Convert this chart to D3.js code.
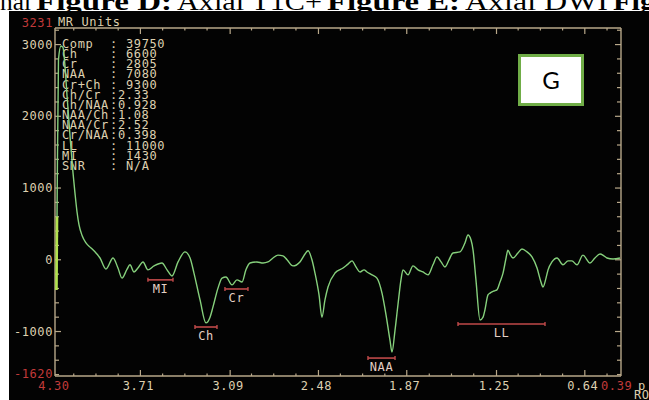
<!DOCTYPE html>
<html>
<head>
<meta charset="utf-8">
<script src="https://cdn.jsdelivr.net/npm/d3@7"></script>
<style>
  html, body { margin: 0; padding: 0; background: #fff; }
  svg { display: block; }
</style>
</head>
<body>
<svg id="chart" width="649" height="400"></svg>
<script>
// Spectrum: chemical shift (ppm) and signal (MR units)
const ppm = [4.290, 4.286, 4.276, 4.259, 4.245, 4.231, 4.217, 4.196, 4.176, 4.162, 4.148, 4.134, 4.113, 4.086, 4.051, 4.017,
  3.989, 3.948, 3.899, 3.865, 3.837, 3.803, 3.782, 3.754, 3.727, 3.692, 3.658, 3.616, 3.561, 3.526, 3.492, 3.450,
  3.402, 3.367, 3.340, 3.298, 3.257, 3.229, 3.209, 3.174, 3.146, 3.119, 3.077, 3.043, 3.008, 2.981, 2.953, 2.905,
  2.863, 2.829, 2.794, 2.760, 2.725, 2.697, 2.656, 2.608, 2.573, 2.552, 2.525, 2.504, 2.476, 2.456, 2.435, 2.414,
  2.366, 2.310, 2.276, 2.248, 2.221, 2.193, 2.165, 2.145, 2.110, 2.076, 2.041, 2.013, 1.986, 1.972, 1.951, 1.931,
  1.910, 1.896, 1.861, 1.827, 1.792, 1.758, 1.723, 1.689, 1.661, 1.633, 1.606, 1.578, 1.551, 1.502, 1.468, 1.447,
  1.426, 1.412, 1.392, 1.364, 1.343, 1.330, 1.309, 1.295, 1.267, 1.247, 1.226, 1.205, 1.184, 1.171, 1.157, 1.136,
  1.102, 1.074, 1.039, 1.005, 0.970, 0.943, 0.929, 0.908, 0.894, 0.867, 0.832, 0.791, 0.756, 0.729, 0.694, 0.653,
  0.604, 0.570, 0.535, 0.508, 0.487, 0.445, 0.397];
const signal = [-420, 600, 2790, 2980, 2960, 2700, 2290, 1720, 1220, 930, 670, 485, 340, 235, 165, 95,
  25, -130, 25, -115, -255, -135, -70, -170, -115, -30, -140, -85, -45, -140, -225, -30,
  110, 25, -185, -560, -880, -800, -660, -395, -255, -240, -350, -280, -310, -140, -45, -30,
  -45, -30, 25, 65, 55, 0, -85, -30, 80, 125, 0, -185, -490, -800, -560, -380,
  -185, -115, -60, -15, -100, -170, -140, -170, -210, -255, -465, -770, -1120, -1285, -980, -630,
  -280, -140, -210, -85, -140, -170, -210, -70, 40, -30, -100, 0, 95, 110, 235, 345,
  275, 135, -280, -840, -800, -700, -490, -465, -435, -420, -310, -185, 25, 135, 80, 25,
  95, 150, 110, 40, -115, -310, -380, -255, -140, -30, 25, -70, -15, -15, -70, 65,
  -45, 25, 80, 55, 25, 10, 25];

// Integration ranges drawn under the peaks
const markerNames = ["MI", "Ch", "Cr", "NAA", "LL"];
const markerFrom = [3.658, 3.333, 3.126, 2.138, 1.516];
const markerTo = [3.485, 3.181, 2.967, 1.951, 0.915];
const markerLevel = [-280, -937, -407, -1370, -895];

// Quantitation table
const statNames = ["Comp", "Ch", "Cr", "NAA", "Cr+Ch", "Ch/Cr", "Ch/NAA", "NAA/Ch", "NAA/Cr", "Cr/NAA", "LL", "MI", "SNR"];
const statValues = ["39750", "6600", "2805", "7080", "9300", "2.33", "0.928", "1.08", "2.52", "0.398", "11000", "1430", "N/A"];
const statIsRatio = [false, false, false, false, false, true, true, true, true, true, false, false, false];

// Axes
const xDomain = [4.30, 0.39];
const yDomain = [-1620, 3231];
const xTickValues = [3.71, 3.09, 2.48, 1.87, 1.25, 0.64];
const xTickLabels = ["3.71", "3.09", "2.48", "1.87", "1.25", "0.64"];
const yTickValues = [3000, 2000, 1000, 0, -1000];
const yTickLabels = ["3000", "2000", "1000", "0", "-1000"];

// Caption fragment above the panel
const captionParts = ["nal", "Figure D:", "Axial T1C+", "Figure E:", "Axial DWI", "Fig"];
const captionBold = [false, true, false, true, false, true];
const captionX = [0, 36, 177, 327, 465, 613];
const captionW = [31, 136, 145, 133, 143, 42];

const svg = d3.select("#chart");
const mono = "'DejaVu Sans Mono', 'Liberation Mono', monospace";
const beige = "#ded0b0";
const axisCol = "#b8a88a";
const red = "#c23a3a";

// caption strip
const cap = svg.append("g")
  .attr("font-family", "'Liberation Serif', 'Times New Roman', serif")
  .attr("font-size", 25)
  .attr("fill", "#000");
captionParts.forEach((t, i) => {
  cap.append("text").attr("x", captionX[i]).attr("y", 10)
    .attr("font-weight", captionBold[i] ? "bold" : "normal")
    .attr("textLength", captionW[i]).attr("lengthAdjust", "spacingAndGlyphs")
    .text(t);
});

// black display panel
svg.append("rect").attr("x", 9).attr("y", 11).attr("width", 640).attr("height", 389).attr("fill", "#030303");

const x = d3.scaleLinear().domain(xDomain).range([55, 621]);
const y = d3.scaleLinear().domain(yDomain).range([376, 28]);

// minor x ticks: quarter steps between major ticks, extended to both ends
const step = (xTickValues[0] - xTickValues[xTickValues.length - 1]) / (xTickValues.length - 1) / 4;
const xMinor = [];
for (let v = xTickValues[0] + step * 3; v >= xDomain[1] - 1e-9; v -= step) {
  if (v <= xDomain[0] && !xTickValues.some(t => Math.abs(t - v) < step / 2)) xMinor.push(v);
}
const yMinor = d3.range(-1600, 3231, 200).filter(v => v % 1000 !== 0);

const g = svg.append("g");

// frame lines
g.append("line").attr("x1", 55).attr("x2", 55).attr("y1", 28).attr("y2", 376).attr("stroke", axisCol).attr("stroke-width", 1.4);
g.append("line").attr("x1", 621).attr("x2", 621).attr("y1", 28).attr("y2", 376).attr("stroke", axisCol).attr("stroke-width", 1.4);
g.append("line").attr("x1", 55).attr("x2", 621).attr("y1", 376).attr("y2", 376).attr("stroke", axisCol).attr("stroke-width", 1.4);
g.append("line").attr("x1", 55).attr("x2", 621).attr("y1", 28).attr("y2", 28).attr("stroke", axisCol).attr("stroke-width", 1.4);

// inward ticks on all four sides
function xTicks(vals, len) {
  vals.forEach(v => {
    g.append("line").attr("x1", x(v)).attr("x2", x(v)).attr("y1", 376).attr("y2", 376 - len).attr("stroke", axisCol).attr("stroke-width", 1.2);
    g.append("line").attr("x1", x(v)).attr("x2", x(v)).attr("y1", 28).attr("y2", 28 + len).attr("stroke", axisCol).attr("stroke-width", 1.2);
  });
}
xTicks(xTickValues, 6);
xTicks(xMinor, 2.5);
function yTicks(vals, len) {
  vals.forEach(v => {
    g.append("line").attr("x1", 55).attr("x2", 55 + len).attr("y1", y(v)).attr("y2", y(v)).attr("stroke", axisCol).attr("stroke-width", 1.2);
    g.append("line").attr("x1", 621).attr("x2", 621 - len).attr("y1", y(v)).attr("y2", y(v)).attr("stroke", axisCol).attr("stroke-width", 1.2);
  });
}
yTicks(yTickValues, 6);
yTicks(yMinor, 4);

// axis labels
const lab = svg.append("g").attr("font-family", mono).attr("font-size", 12).attr("letter-spacing", 0.6);
yTickValues.forEach((v, i) => {
  lab.append("text").attr("x", 53).attr("y", y(v) + 4).attr("text-anchor", "end").attr("fill", beige).text(yTickLabels[i]);
});
lab.append("text").attr("x", 53).attr("y", 378).attr("text-anchor", "end").attr("fill", red).text(String(yDomain[0]));
lab.append("text").attr("x", 53).attr("y", 27).attr("text-anchor", "end").attr("fill", red).text(String(yDomain[1]));
lab.append("text").attr("x", 58).attr("y", 26).attr("fill", beige).text("MR Units");
xTickValues.forEach((v, i) => {
  lab.append("text").attr("x", x(v) - 2).attr("y", 390).attr("text-anchor", "middle").attr("fill", beige).text(xTickLabels[i]);
});
lab.append("text").attr("x", 54).attr("y", 390).attr("text-anchor", "middle").attr("fill", red).text(xDomain[0].toFixed(2));
lab.append("text").attr("x", 601).attr("y", 390).attr("fill", red).text(xDomain[1].toFixed(2));
lab.append("text").attr("x", 638).attr("y", 390).attr("fill", beige).text("p");
lab.append("text").attr("x", 634).attr("y", 399).attr("fill", beige).text("RO");

// quantitation table
const tab = svg.append("g").attr("font-family", mono).attr("font-size", 12).attr("fill", beige);
statNames.forEach((n, i) => {
  const ty = 48 + i * 10.15;
  tab.append("text").attr("x", 62).attr("y", ty).attr("letter-spacing", 0.6).text(n);
  tab.append("text").attr("x", 110).attr("y", ty).text(":");
  tab.append("text").attr("x", statIsRatio[i] ? 118 : 126).attr("y", ty).attr("letter-spacing", 0.6).text(statValues[i]);
});

// spectrum trace
const pts = ppm.map((p, i) => [p, signal[i]]);
const line = d3.line().x(d => x(d[0])).y(d => y(d[1])).curve(d3.curveMonotoneX);
svg.append("path").datum(pts).attr("d", line).attr("fill", "none").attr("stroke", "#86d07c").attr("stroke-width", 1.4);
// leading edge of the trace shown brighter
svg.append("path").datum(pts.slice(0, 2)).attr("d", d3.line().x(d => x(d[0])).y(d => y(d[1])))
  .attr("fill", "none").attr("stroke", "#b2e24e").attr("stroke-width", 2.6);

// integration range markers
const mk = svg.append("g");
markerNames.forEach((n, i) => {
  const x0 = x(markerFrom[i]), x1 = x(markerTo[i]), my = y(markerLevel[i]);
  mk.append("line").attr("x1", x0).attr("x2", x1).attr("y1", my).attr("y2", my).attr("stroke", "#c04a4a").attr("stroke-width", 1.6);
  [x0, x1].forEach(xx => mk.append("line").attr("x1", xx).attr("x2", xx).attr("y1", my - 2).attr("y2", my + 2).attr("stroke", "#c04a4a").attr("stroke-width", 1.4));
  mk.append("text").attr("x", (x0 + x1) / 2).attr("y", my + 13).attr("text-anchor", "middle")
    .attr("font-family", mono).attr("font-size", 12).attr("letter-spacing", 0.6).attr("fill", "#e4cfc4").text(n);
});

// panel letter
svg.append("rect").attr("x", 519.5).attr("y", 55.5).attr("width", 63).attr("height", 49)
  .attr("fill", "#fff").attr("stroke", "#70ad47").attr("stroke-width", 3);
svg.append("text").attr("x", 551).attr("y", 89).attr("text-anchor", "middle")
  .attr("font-family", "Lato, 'Open Sans', sans-serif").attr("font-size", 24).attr("fill", "#000").text("G");
</script>
</body>
</html>
